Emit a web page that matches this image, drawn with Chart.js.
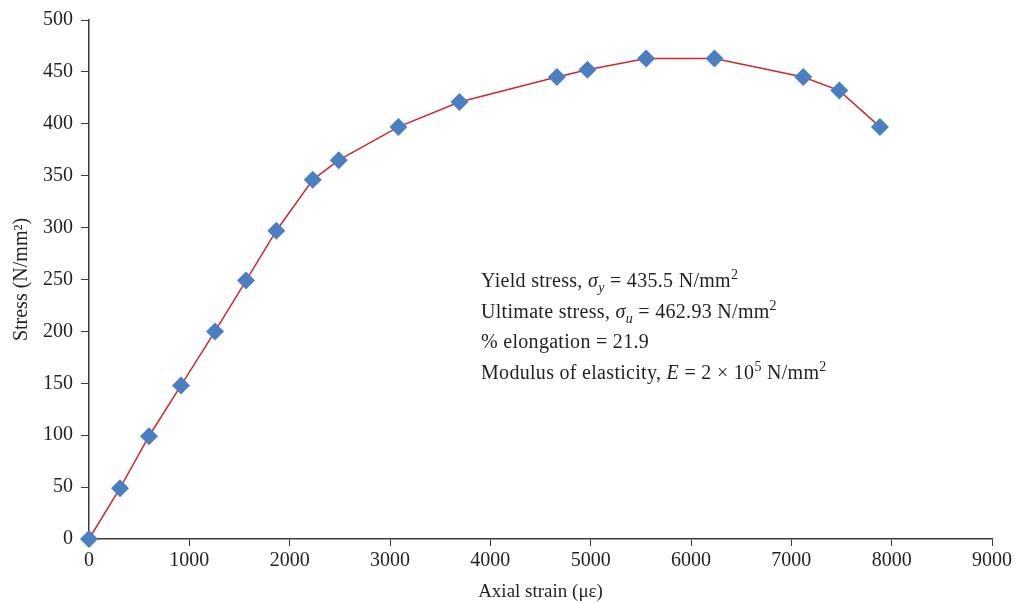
<!DOCTYPE html>
<html>
<head>
<meta charset="utf-8">
<script src="https://cdn.jsdelivr.net/npm/chart.js@4/dist/chart.umd.min.js"></script>
<style>
  html, body { margin: 0; padding: 0; background: #fff; }
  #wrap { position: relative; width: 1015px; height: 603px; }
  #note {
    position: absolute;
    left: 481px;
    top: 265px;
    font-family: 'Liberation Serif', serif;
    font-size: 20px;
    letter-spacing: 0.3px;
    line-height: 30.5px;
    color: #231f20;
    white-space: nowrap;
  }
  #note sub, #note sup { font-size: 14px; line-height: 0; }
</style>
</head>
<body>
<div id="wrap">
  <canvas id="chart" width="1015" height="603"></canvas>
  <div id="note">
    <div>Yield stress, <i>σ</i><sub><i>y</i></sub> = 435.5 N/mm<sup>2</sup></div>
    <div>Ultimate stress, <i>σ</i><sub><i>u</i></sub> = 462.93 N/mm<sup>2</sup></div>
    <div>% elongation = 21.9</div>
    <div>Modulus of elasticity, <i>E</i> = 2 × 10<sup>5</sup> N/mm<sup>2</sup></div>
  </div>
</div>
<script>
const strain = [0, 309, 598, 917, 1256, 1565, 1867, 2230, 2489, 3084, 3692, 4663, 4968, 5553, 6234, 7119, 7478, 7883]
const stress = [0, 49, 99, 148, 200, 249, 297, 346, 365, 397, 421, 445, 452, 462.93, 462.93, 445, 432, 397]

const xTitle = 'Axial strain (με)'
const yTitle = 'Stress (N/mm²)'

const font = 'Liberation Serif'
const textColor = '#231f20'
const axisColor = '#3a3a3a'

const points = strain.map((x, i) => ({ x: x, y: stress[i] }))

const ctx = document.getElementById('chart').getContext('2d')
new Chart(ctx, {
  type: 'scatter',
  data: {
    datasets: [{
      data: points,
      showLine: true,
      clip: false,
      borderColor: '#d22630',
      borderWidth: 1.5,
      tension: 0,
      pointStyle: 'rectRot',
      pointRadius: 9,
      pointHoverRadius: 9,
      pointBackgroundColor: '#4a7fc1',
      pointBorderColor: '#4a7fc1',
      pointBorderWidth: 0
    }]
  },
  options: {
    responsive: false,
    animation: false,
    layout: { padding: { top: 6, right: 23, left: 4 } },
    plugins: {
      legend: { display: false },
      tooltip: { enabled: false }
    },
    scales: {
      x: {
        type: 'linear',
        min: 0,
        max: 9000,
        ticks: {
          stepSize: 1000,
          color: textColor,
          font: { family: font, size: 20 },
          padding: 3,
          callback: (v) => String(v)
        },
        grid: { drawOnChartArea: false, color: axisColor, tickLength: 7 },
        border: { color: axisColor, width: 1.5 },
        title: {
          display: true,
          text: xTitle,
          color: textColor,
          font: { family: font, size: 19 },
          padding: { top: 2, bottom: 0 }
        },
        afterFit: (scale) => { scale.height = 64 }
      },
      y: {
        min: 0,
        max: 500,
        ticks: {
          stepSize: 50,
          color: textColor,
          font: { family: font, size: 20 },
          padding: 8
        },
        grid: { drawOnChartArea: false, color: axisColor, tickLength: 8 },
        border: { color: axisColor, width: 1.5 },
        title: {
          display: true,
          text: yTitle,
          color: textColor,
          font: { family: font, size: 20 },
          padding: { top: 6, bottom: 4 }
        },
        afterFit: (scale) => { scale.width = 85 }
      }
    }
  }
})
</script>
</body>
</html>
